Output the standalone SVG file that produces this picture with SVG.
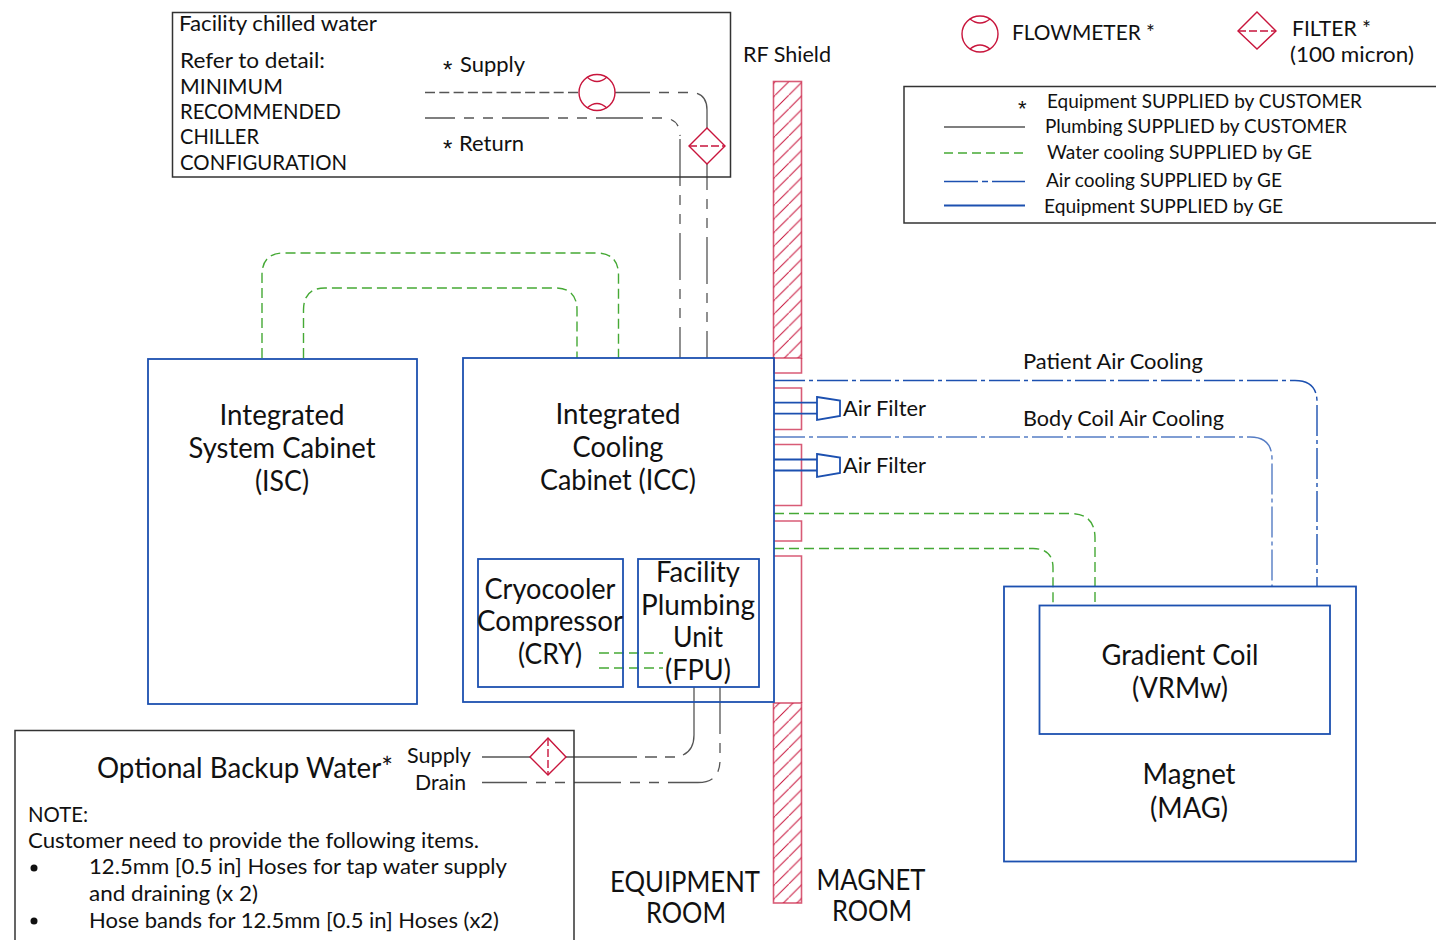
<svg xmlns="http://www.w3.org/2000/svg" width="1436" height="940" viewBox="0 0 1436 940">
<style>
text{font-family:"Lato","Noto Sans",sans-serif;fill:#111;font-size:22px}
.n{font-size:28px}
.c{text-anchor:middle}
.s{font-size:20px}
.ast{font-family:"Liberation Sans",sans-serif;font-size:24px}
.box{fill:none;stroke:#333;stroke-width:1.5}
.eq{fill:none;stroke:#1c50b0;stroke-width:1.8}
.red{fill:none;stroke:#c8153c;stroke-width:1.4}
.sh{fill:none;stroke:#c8153c;stroke-width:1.6;opacity:.7}
.hz{fill:url(#hatch);stroke:#c8153c;stroke-width:1.6}
.g{fill:none;stroke:#45a935;stroke-width:1.4;stroke-dasharray:10 5}
.p{fill:none;stroke:#555;stroke-width:1.3}
.a{fill:none;stroke:#1c50b0;stroke-width:1.4;stroke-dasharray:31 4 4 4}
</style>
<defs>
<pattern id="hatch" patternUnits="userSpaceOnUse" width="13.6" height="13.6">
<path d="M-1 14.600L14.600-1" stroke="#c8153c" stroke-width="1"/>
</pattern>
</defs>
<rect width="1436" height="940" fill="#fff"/>
<g id="rf-shield">
<rect x="773.500" y="81.500" width="28" height="276.500" class="hz" stroke-opacity=".7"/>
<rect x="773.500" y="703" width="28" height="200" class="hz" stroke-opacity=".7"/>
<path class="sh" d="M774 358V373H801.500V358M774 388H801.500V429.500H774M774 444.500H801.500V505.500H774M774 521H801.500V541H774M774 556H801.500V703"/>
<text x="743" y="62" textLength="88" lengthAdjust="spacingAndGlyphs">RF Shield</text>
</g>
<g id="connectors">
<path class="g" d="M262 358V275Q262 253 284 253H596Q618.500 253 618.500 275V358"/>
<path class="g" d="M303.500 358V310Q303.500 288 325 288H555Q577 288 577 310V358"/>
<path class="g" d="M774 513.500H1070Q1095 513.500 1095 538V605"/>
<path class="g" d="M774 548.500H1033Q1053 548.500 1053 568V605"/>
<path class="g" d="M599 653H663M599 668H663"/>
<path class="a" d="M774 380.500H1295Q1317 380.500 1317 402V586"/>
<path class="a" d="M774 437H1250Q1272 437 1272 459V586" opacity=".75"/>
<path class="p" stroke-dasharray="10 4.300" d="M425 92.500H578"/>
<path class="p" stroke-dasharray="47 9 10 9 10 9" stroke-dashoffset="12" d="M615 92.500H690Q707 92.500 707 110V128"/>
<path class="p" stroke-dasharray="47 9 10 9 10 9" stroke-dashoffset="21" d="M707 164V358"/>
<path class="p" stroke-dasharray="47 9 10 9 10 9" stroke-dashoffset="17" d="M425 118H662Q680 118 680 136"/>
<path class="p" stroke-dasharray="47 9 10 9 10 9" d="M680 139V358"/>
<path class="p" d="M482 757H530M566 757H637M645 757H657M665 757H675M683 755Q694 750 694 735V687"/>
<path class="p" stroke-dasharray="45 9 10 9 10 9 47 9 10 9 10 9" d="M482 782.500H698Q720 782.500 720 760V687"/>
</g>
<g id="facility-chilled-water">
<rect class="box" x="172.500" y="12.500" width="558" height="164.500"/>
<text x="179" y="31" textLength="198" lengthAdjust="spacingAndGlyphs">Facility chilled water</text>
<text x="180" y="68" textLength="145" lengthAdjust="spacingAndGlyphs">Refer to detail:</text>
<text x="180" y="94" textLength="103" lengthAdjust="spacingAndGlyphs">MINIMUM</text>
<text x="180" y="119" textLength="161" lengthAdjust="spacingAndGlyphs">RECOMMENDED</text>
<text x="180" y="144" textLength="79" lengthAdjust="spacingAndGlyphs">CHILLER</text>
<text x="180" y="170" textLength="167" lengthAdjust="spacingAndGlyphs">CONFIGURATION</text>
<text class="ast" x="443" y="78">*</text>
<text x="460" y="72" textLength="65" lengthAdjust="spacingAndGlyphs">Supply</text>
<text class="ast" x="443" y="157">*</text>
<text x="459" y="151" textLength="65" lengthAdjust="spacingAndGlyphs">Return</text>
</g>
<g id="flowmeter-supply">
<circle class="red" cx="597" cy="92.500" r="18"/>
<path class="red" d="M587 77Q597 86 607 77M587 108Q597 99 607 108"/>
</g>
<g id="filter-supply">
<path class="red" d="M707 128L725 146L707 164L689 146Z"/>
<path class="red" stroke-dasharray="8 3" d="M689 146H725"/>
</g>
<g id="legend-symbols">
<circle class="red" cx="980" cy="34" r="18"/>
<path class="red" d="M970 19Q980 27 990 19M970 49Q980 41 990 49"/>
<text x="1012" y="40" textLength="143" lengthAdjust="spacingAndGlyphs">FLOWMETER *</text>
<path class="red" d="M1257 12L1276 31L1257 49L1238 31Z"/>
<path class="red" stroke-dasharray="8 3" d="M1238 31H1276"/>
<text x="1292" y="36" textLength="79" lengthAdjust="spacingAndGlyphs">FILTER *</text>
<text x="1290" y="62" textLength="124" lengthAdjust="spacingAndGlyphs">(100 micron)</text>
</g>
<g id="legend">
<path class="box" d="M1436 86.500H904V223H1436"/>
<text class="ast" x="1018" y="116" style="font-size:22px">*</text>
<text class="s" x="1047" y="108" textLength="315" lengthAdjust="spacingAndGlyphs">Equipment SUPPLIED by CUSTOMER</text>
<path class="p" d="M944 127H1025"/>
<text class="s" x="1045" y="133" textLength="302" lengthAdjust="spacingAndGlyphs">Plumbing SUPPLIED by CUSTOMER</text>
<path class="g" style="stroke-dasharray:9 5" d="M944 153H1025"/>
<text class="s" x="1047" y="159" textLength="265" lengthAdjust="spacingAndGlyphs">Water cooling SUPPLIED by GE</text>
<path class="a" style="stroke-dasharray:34 4 6 4" d="M944 181.500H1025"/>
<text class="s" x="1046" y="187" textLength="236" lengthAdjust="spacingAndGlyphs">Air cooling SUPPLIED by GE</text>
<path class="eq" d="M944 205.500H1025"/>
<text class="s" x="1044" y="213" textLength="239" lengthAdjust="spacingAndGlyphs">Equipment SUPPLIED by GE</text>
</g>
<g id="isc">
<rect class="eq" x="148" y="359" width="269" height="345"/>
<text class="n c" x="282" y="425" textLength="125" lengthAdjust="spacingAndGlyphs">Integrated</text>
<text class="n c" x="282" y="458" textLength="187" lengthAdjust="spacingAndGlyphs">System Cabinet</text>
<text class="n c" x="282" y="491" textLength="54" lengthAdjust="spacingAndGlyphs">(ISC)</text>
</g>
<g id="icc">
<rect class="eq" x="463" y="358" width="311" height="344"/>
<text class="n c" x="618" y="424" textLength="125" lengthAdjust="spacingAndGlyphs">Integrated</text>
<text class="n c" x="618" y="457" textLength="91" lengthAdjust="spacingAndGlyphs">Cooling</text>
<text class="n c" x="618" y="490" textLength="156" lengthAdjust="spacingAndGlyphs">Cabinet (ICC)</text>
</g>
<g id="cry">
<rect class="eq" x="478" y="559" width="145" height="128"/>
<text class="n c" x="550" y="599" textLength="131" lengthAdjust="spacingAndGlyphs">Cryocooler</text>
<text class="n c" x="550" y="631" textLength="146" lengthAdjust="spacingAndGlyphs">Compressor</text>
<text class="n c" x="550" y="664" textLength="64" lengthAdjust="spacingAndGlyphs">(CRY)</text>
</g>
<g id="fpu">
<rect class="eq" x="638" y="559" width="121" height="128"/>
<text class="n c" x="698" y="582" textLength="84" lengthAdjust="spacingAndGlyphs">Facility</text>
<text class="n c" x="698" y="615" textLength="114" lengthAdjust="spacingAndGlyphs">Plumbing</text>
<text class="n c" x="698" y="647" textLength="50" lengthAdjust="spacingAndGlyphs">Unit</text>
<text class="n c" x="698" y="680" textLength="66" lengthAdjust="spacingAndGlyphs">(FPU)</text>
</g>
<g id="air-filter-1">
<path class="eq" d="M774 402.700H817M774 413.700H817M817 397L840 400.500V416L817 420Z"/>
<text x="843" y="416" textLength="83" lengthAdjust="spacingAndGlyphs">Air Filter</text>
</g>
<g id="air-filter-2">
<path class="eq" d="M774 459.500H817M774 470.500H817M817 454L840 457.500V473L817 477Z"/>
<text x="843" y="473" textLength="83" lengthAdjust="spacingAndGlyphs">Air Filter</text>
</g>
<text x="1023" y="369" textLength="180" lengthAdjust="spacingAndGlyphs">Patient Air Cooling</text>
<text x="1023" y="426" textLength="201" lengthAdjust="spacingAndGlyphs">Body Coil Air Cooling</text>
<g id="mag">
<rect class="eq" x="1004" y="586.500" width="352" height="275"/>
<text class="n c" x="1189" y="784" textLength="93" lengthAdjust="spacingAndGlyphs">Magnet</text>
<text class="n c" x="1189" y="818" textLength="78" lengthAdjust="spacingAndGlyphs">(MAG)</text>
</g>
<g id="vrmw">
<rect class="eq" x="1039.500" y="605.500" width="290.500" height="128.500"/>
<text class="n c" x="1180" y="665" textLength="157" lengthAdjust="spacingAndGlyphs">Gradient Coil</text>
<text class="n c" x="1180" y="698" textLength="96" lengthAdjust="spacingAndGlyphs">(VRMw)</text>
</g>
<g id="optional-backup-water">
<path class="box" d="M15 940V730.500H574V940"/>
<text class="n" x="97" y="778" textLength="296" lengthAdjust="spacingAndGlyphs">Optional Backup Water*</text>
<text x="407" y="763" textLength="64" lengthAdjust="spacingAndGlyphs">Supply</text>
<text x="415" y="790" textLength="51" lengthAdjust="spacingAndGlyphs">Drain</text>
<path class="red" d="M548 738L566 757L548 775L530 757Z"/>
<path class="red" stroke-dasharray="8 3" d="M548 738V775"/>
<text x="28" y="822" textLength="60" lengthAdjust="spacingAndGlyphs">NOTE:</text>
<text x="28" y="848" textLength="451" lengthAdjust="spacingAndGlyphs">Customer need to provide the following items.</text>
<circle cx="34" cy="868" r="3.500" fill="#111"/>
<text x="89" y="874" textLength="418" lengthAdjust="spacingAndGlyphs">12.5mm [0.5 in] Hoses for tap water supply</text>
<text x="89" y="901" textLength="169" lengthAdjust="spacingAndGlyphs">and draining (x 2)</text>
<circle cx="34" cy="921" r="3.500" fill="#111"/>
<text x="89" y="928" textLength="410" lengthAdjust="spacingAndGlyphs">Hose bands for 12.5mm [0.5 in] Hoses (x2)</text>
</g>
<text class="n c" x="685" y="892" textLength="150" lengthAdjust="spacingAndGlyphs">EQUIPMENT</text>
<text class="n c" x="686" y="923" textLength="80" lengthAdjust="spacingAndGlyphs">ROOM</text>
<text class="n c" x="871" y="890" textLength="109" lengthAdjust="spacingAndGlyphs">MAGNET</text>
<text class="n c" x="872" y="921" textLength="80" lengthAdjust="spacingAndGlyphs">ROOM</text>
</svg>
